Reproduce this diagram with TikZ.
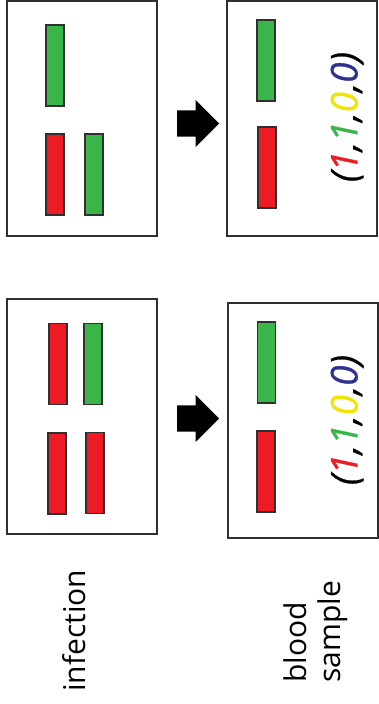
\documentclass[tikz,border=0pt]{standalone}
\usepackage{fontspec}
\setmainfont{Open Sans}
\usetikzlibrary{shapes.arrows}
\definecolor{barred}{HTML}{ED1C24}
\definecolor{bargreen}{HTML}{39B54A}
\definecolor{digityellow}{HTML}{F2E300}
\definecolor{digitblue}{HTML}{2E3192}
\definecolor{edge}{HTML}{303030}
\begin{document}
\begin{tikzpicture}[x=1pt,y=-1pt,
  panel/.style={draw=edge, line width=2pt, minimum width=150pt, minimum height=235pt, inner sep=0pt},
  bar/.style={draw=edge, line width=1.4pt, minimum width=18pt, minimum height=81pt, inner sep=0pt},
  redbar/.style={bar, fill=barred},
  greenbar/.style={bar, fill=bargreen},
  blockarrow/.style={single arrow, fill=black, minimum height=42pt, minimum width=47pt,
    single arrow head extend=10.5pt, single arrow head indent=0pt, inner xsep=0pt, inner ysep=13pt,
    anchor=tail},
  vector/.style={rotate=90, font=\fontsize{37}{40}\selectfont\itshape\addfontfeature{FakeBold=0.8}, inner sep=0pt},
  caption/.style={rotate=90, font=\fontsize{30}{34}\selectfont, inner sep=0pt, align=left}
]
\useasboundingbox (0,0) rectangle (378,704);

% upper row: infection with mixed pairs
\node[panel] (infA) at (82,118.5) {};
\node[greenbar] (infA1) at (55,65.5) {};
\node[redbar]   (infA2) at (55,174.5) {};
\node[greenbar] (infA3) at (94,174.5) {};

\node[panel] (smpA) at (302,118.5) {};
\node[greenbar] (smpA1) at (266,60.5) {};
\node[redbar]   (smpA2) at (267,167.5) {};
\node[vector] (vecA) at (347,117) {(\textcolor{barred}{1},\textcolor{bargreen}{1},\textcolor{digityellow}{0},\textcolor{digitblue}{0})};

\node[blockarrow] (arrA) at (177,123.5) {};

% lower row
\node[panel] (infB) at (82,416.5) {};
\node[redbar]   (infB1) at (58,364) {};
\node[greenbar] (infB2) at (93,364) {};
\node[redbar]   (infB3) at (57,473.5) {};
\node[redbar]   (infB4) at (95,473) {};

\node[panel] (smpB) at (302.5,420.5) {};
\node[greenbar] (smpB1) at (266.5,362.5) {};
\node[redbar]   (smpB2) at (266,471.5) {};
\node[vector] (vecB) at (347,420) {(\textcolor{barred}{1},\textcolor{bargreen}{1},\textcolor{digityellow}{0},\textcolor{digitblue}{0})};

\node[blockarrow] (arrB) at (177,418.5) {};

% column captions
\node[caption, anchor=base west] (capInf) at (85,692) {infection};
\node[caption, anchor=north west] (capSmp) at (284,683) {blood\\sample};
\end{tikzpicture}
\end{document}
